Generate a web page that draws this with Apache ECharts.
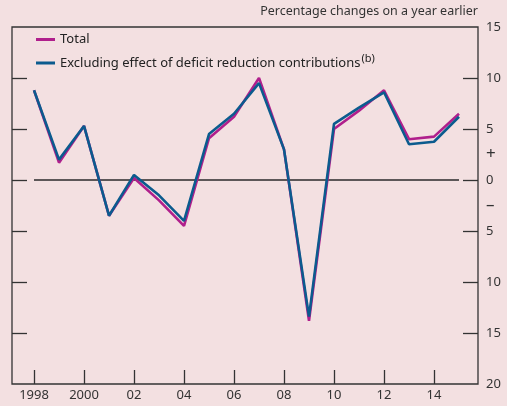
<!DOCTYPE html>
<html><head><meta charset="utf-8">
<script src="https://cdn.jsdelivr.net/npm/echarts@6/dist/echarts.min.js"></script>
<style>html,body{margin:0;padding:0;background:#f3e0e1;}#c{width:507px;height:406px;}</style>
</head><body><div id="c"></div>
<script>
var years = [1998,1999,2000,2001,2002,2003,2004,2005,2006,2007,2008,2009,2010,2011,2012,2013,2014,2015];
var total = [8.8,1.7,5.3,-3.5,0.2,-2.0,-4.5,4.1,6.2,10.0,3.0,-13.8,5.0,6.8,8.8,4.0,4.25,6.5];
var excluding = [8.8,2.0,5.3,-3.5,0.5,-1.5,-4.0,4.5,6.5,9.5,3.0,-13.4,5.5,7.1,8.6,3.5,3.75,6.2];
var xTicks = [1998,2000,2002,2004,2006,2008,2010,2012,2014];
var xTickLabels = ['1998','2000','02','04','06','08','10','12','14'];
var yTicks = [10,5,0,-5,-10,-15];
var yLabelValues = [15,10,5,2.5,0,-2.5,-5,-10,-15,-20];
var zeroSpan = [1998,2015];

var FONT = 'Noto Sans';
var chart = echarts.init(document.getElementById('c'), null, {renderer:'canvas'});
function pairs(v){ return years.map(function(y,i){return [y,v[i]];}); }
chart.setOption({
  backgroundColor:'#f3e0e1',
  animation:false,
  textStyle:{fontFamily:FONT},
  title:{text:'Percentage changes on a year earlier', right:29, top:5, padding:0,
    textStyle:{fontSize:12.5, fontWeight:'normal', color:'#333', fontFamily:FONT}},
  legend:{orient:'vertical', left:36, top:33, padding:0, itemWidth:19, itemHeight:3, itemGap:7,
    icon:'rect',
    data:['Total','Excluding'],
    formatter:function(n){ return n==='Total' ? '{a|Total}' : '{a|Excluding effect of deficit reduction contributions}{s|(b)}'; },
    textStyle:{color:'#222', fontFamily:FONT, fontSize:13,
      rich:{a:{fontSize:13, fontFamily:FONT, color:'#222', height:17}, s:{fontSize:11, fontFamily:FONT, color:'#222', verticalAlign:'top', padding:[0,0,9,1]}}}},
  grid:{left:12, right:29, top:27, bottom:22, show:true, borderColor:'#333', borderWidth:1.3, backgroundColor:'transparent'},
  xAxis:{type:'value', min:1997.12, max:2015.76,
    axisLine:{show:false, onZero:false},
    splitLine:{show:false},
    axisTick:{show:true, inside:true, length:14, customValues:xTicks, lineStyle:{color:'#333', width:1.3}},
    axisLabel:{customValues:xTicks, margin:5, fontSize:13, color:'#333', fontFamily:FONT,
      formatter:function(v){ var i=xTicks.indexOf(v); return i>=0?xTickLabels[i]:''; }}},
  yAxis:[
    {type:'value', position:'left', min:-20, max:15,
      axisLine:{show:false, onZero:false}, splitLine:{show:false}, axisLabel:{show:false},
      axisTick:{show:true, inside:true, length:15, customValues:yTicks, lineStyle:{color:'#333', width:1.3}}},
    {type:'value', position:'right', min:-20, max:15,
      axisLine:{show:false, onZero:false}, splitLine:{show:false},
      axisTick:{show:true, inside:true, length:15, customValues:yTicks, lineStyle:{color:'#333', width:1.3}},
      axisLabel:{customValues:yLabelValues, margin:8, fontSize:13, color:'#333', fontFamily:FONT,
        rich:{p:{fontSize:17, fontFamily:FONT, color:'#333'}},
        formatter:function(v){ if(Math.abs(v-2.5)<1e-6) return '{p|+}'; if(Math.abs(v+2.5)<1e-6) return '{p|\u2013}'; return String(Math.abs(v)); }}}
  ],
  series:[
    {name:'zero', type:'line', data:[[zeroSpan[0],0],[zeroSpan[1],0]], symbol:'none', silent:true,
      lineStyle:{color:'#2a2a2a', width:1.4}, z:1},
    {name:'Total', type:'line', data:pairs(total), symbol:'none', itemStyle:{color:'#b01f8c'},
      lineStyle:{color:'#b01f8c', width:2.6}, z:2},
    {name:'Excluding', type:'line', data:pairs(excluding), symbol:'none', itemStyle:{color:'#0b5b8e'},
      lineStyle:{color:'#0b5b8e', width:2.6}, z:3}
  ]
});
</script></body></html>
